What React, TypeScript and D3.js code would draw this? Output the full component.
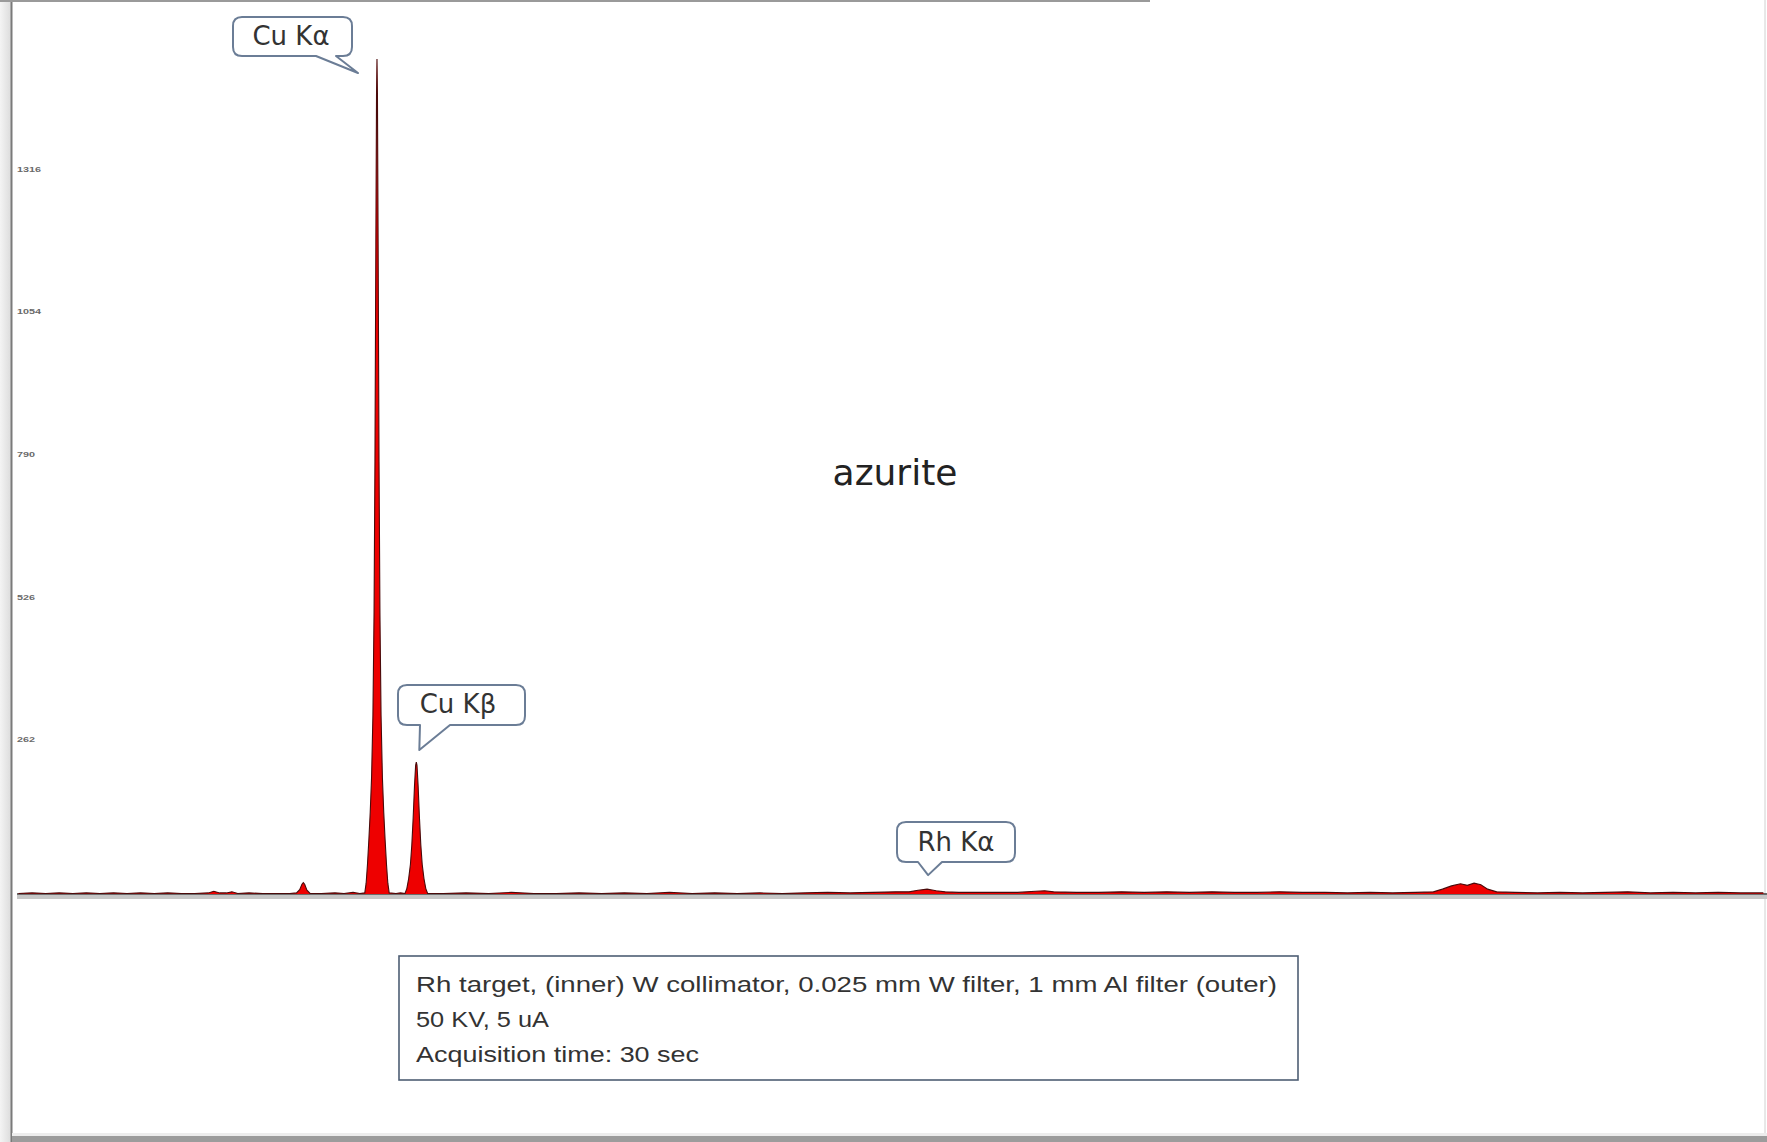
import React, { useEffect } from 'react'
import * as d3 from 'd3'

// XRF spectrum of azurite — energies (keV) and counts
const energyKeV = [
  // background
  0.1, 0.4, 0.7, 1.0, 1.3, 1.6, 1.9, 2.2, 2.5, 2.8, 3.1, 3.4, 3.7, 4.0,
  // small lines
  4.3, 4.42, 4.55, 4.7, 4.82, 4.95, 5.2, 5.5, 5.8, 6.1,
  // Fe Ka
  6.25, 6.32, 6.37, 6.4, 6.43, 6.48, 6.55,
  6.8, 7.1, 7.3, 7.5, 7.65,
  // Cu Ka
  7.76, 7.79, 7.82, 7.85, 7.88, 7.91, 7.94, 7.965, 7.985, 8.005, 8.02, 8.03,
  8.04, 8.055, 8.075, 8.095, 8.12, 8.15, 8.18, 8.21, 8.24, 8.27, 8.3,
  8.45, 8.55,
  // Cu Kb
  8.65, 8.69, 8.73, 8.77, 8.8, 8.83, 8.86, 8.885, 8.9, 8.915, 8.94, 8.97, 9.0,
  9.03, 9.07, 9.11, 9.15,
  // background
  9.5, 10, 10.5, 11, 11.5, 12, 12.5, 13, 13.5, 14, 14.5, 15, 15.5, 16, 16.5,
  17, 17.5, 18, 18.5, 19, 19.5,
  // Rh Ka
  19.8, 20.0, 20.2, 20.4, 20.6, 20.9,
  // Rh Kb + background
  21.5, 22.2, 22.6, 22.8, 23.0, 23.5, 24, 24.5, 25, 25.5, 26, 26.5, 27, 27.5,
  28, 28.5, 29, 29.5, 30, 30.5, 31, 31.4,
  // bump near 32 keV
  31.6, 31.8, 32.0, 32.15, 32.3, 32.45, 32.6, 32.8,
  // background
  33.2, 33.7, 34.2, 34.7, 35.2, 35.7, 36.2, 36.7, 37.2, 37.7, 38.2, 38.7,
]

const counts = [
  1, 2, 1, 2, 1, 2, 1, 2, 1, 2, 1, 2, 1, 1,
  2, 5, 2, 2, 4, 1, 2, 1, 1, 1,
  2, 8, 18, 21, 18, 7, 1,
  1, 2, 1, 3, 1,
  2, 20, 55, 100, 150, 215, 330, 520, 800, 1200, 1480, 1544,
  1480, 1200, 800, 520, 330, 215, 150, 100, 55, 20, 2,
  1, 2,
  1, 10, 28, 55, 90, 140, 200, 238, 244, 238, 200, 140, 90,
  55, 28, 10, 1,
  1, 2, 1, 3, 1, 1, 2, 1, 2, 1, 3, 1, 2, 1, 2,
  1, 2, 3, 2, 3, 4,
  4, 7, 9, 6, 4, 3,
  3, 3, 5, 6, 4, 3, 3, 4, 3, 4, 3, 4, 3, 3,
  4, 3, 3, 2, 3, 2, 3, 4,
  9, 15, 19, 16, 20, 17, 9, 4,
  3, 2, 3, 2, 3, 4, 2, 3, 2, 3, 2, 2,
]

const yTicks = [262, 526, 790, 1054, 1316]

// peak callouts: label, peak energy, peak counts
const peakLabels = ['Cu Kα', 'Cu Kβ', 'Rh Kα']
const peakEnergies = [8.03, 8.9, 20.2]
const peakCounts = [1544, 244, 9]

const sampleName = 'azurite'
const infoLines = [
  'Rh target, (inner) W collimator, 0.025 mm W filter, 1 mm Al filter (outer)',
  '50 KV, 5 uA',
  'Acquisition time: 30 sec',
]

const W = 1767
const H = 1142

// callout box: rounded rect with a tail pointing at the peak
function calloutPath(x0: number, y0: number, x1: number, y1: number, r: number,
  tailA: number, tailB: number, tipX: number, tipY: number) {
  return [
    `M${x0 + r},${y0}`,
    `L${x1 - r},${y0}`,
    `Q${x1},${y0} ${x1},${y0 + r}`,
    `L${x1},${y1 - r}`,
    `Q${x1},${y1} ${x1 - r},${y1}`,
    `L${tailB},${y1}`,
    `L${tipX},${tipY}`,
    `L${tailA},${y1}`,
    `L${x0 + r},${y1}`,
    `Q${x0},${y1} ${x0},${y1 - r}`,
    `L${x0},${y0 + r}`,
    `Q${x0},${y0} ${x0 + r},${y0}`,
    'Z',
  ].join(' ')
}

export default function App() {
  useEffect(() => {
    document.body.style.margin = '0'
    document.body.style.overflow = 'hidden'
  }, [])

  const x = d3.scaleLinear().domain([0, 38.78]).range([14, 1767])
  const y = d3.scaleLinear().domain([0, 1579.2]).range([894, 40])

  const data = energyKeV.map((e, i) => [e, counts[i]] as [number, number])
  const area = d3.area<[number, number]>()
    .x(d => x(d[0]))
    .y0(y(0))
    .y1(d => y(d[1]))
  const line = d3.line<[number, number]>()
    .x(d => x(d[0]))
    .y(d => y(d[1]))

  // callout boxes, placed relative to the peaks they point at
  const callouts = [
    { box: [233, 17, 352, 56], tail: [316, 336], tipDx: -19, tipDy: 14, textX: 291, textY: 45 },
    { box: [398, 685, 525, 725], tail: [420, 450], tipDx: 3, tipDy: -12, textX: 458, textY: 713 },
    { box: [897, 822, 1015, 862], tail: [918, 942], tipDx: 1, tipDy: -14, textX: 956, textY: 851 },
  ]

  return (
    <svg width={W} height={H} style={{ position: 'absolute', left: 0, top: 0, background: '#fff' }}>
      <defs>
        <linearGradient id="leftShade" x1="0" x2="1" y1="0" y2="0">
          <stop offset="0" stopColor="#f4f4f4" />
          <stop offset="1" stopColor="#dcdcdc" />
        </linearGradient>
      </defs>

      {/* page frame */}
      <rect x={0} y={0} width={11} height={H} fill="url(#leftShade)" />
      <line x1={11.5} x2={11.5} y1={0} y2={H} stroke="#7a7a7a" strokeWidth={2} />
      <line x1={0} x2={1150} y1={1} y2={1} stroke="#9a9a9a" strokeWidth={2} />
      <line x1={1765} x2={1765} y1={0} y2={H} stroke="#d0d0d0" strokeWidth={1} />
      <rect x={12} y={1133} width={W - 12} height={3} fill="#ededed" />
      <rect x={12} y={1136} width={W - 12} height={6} fill="#9c9c9c" />

      {/* y tick labels */}
      {yTicks.map(t => (
        <text key={t} x={17} y={y(t) - 12} dominantBaseline="middle"
          fontFamily="'Liberation Sans', Arial, sans-serif" fontSize={8} fontWeight="bold"
          fill="#6a6a6a" textLength={t >= 1000 ? 24 : 18} lengthAdjust="spacingAndGlyphs">
          {t}
        </text>
      ))}

      {/* baseline and its shadow */}
      <rect x={17} y={895} width={1750} height={4} fill="#c6c6c6" />
      <line x1={17} x2={1767} y1={y(0)} y2={y(0)} stroke="#3c3c3c" strokeWidth={1.5} />

      {/* spectrum */}
      <path d={area(data) || ''} fill="#ee0000" />
      <path d={line(data) || ''} fill="none" stroke="#4a0a0a" strokeWidth={1.1} />

      {/* sample name */}
      <text x={895} y={485} textAnchor="middle" fontFamily="'DejaVu Sans', sans-serif"
        fontSize={36} fill="#222">{sampleName}</text>

      {/* peak callouts */}
      {peakLabels.map((label, i) => {
        const c = callouts[i]
        const tipX = x(peakEnergies[i]) + c.tipDx
        const tipY = y(peakCounts[i]) + c.tipDy
        const [x0, y0, x1, y1] = c.box
        return (
          <g key={label}>
            <path d={calloutPath(x0, y0, x1, y1, 9, c.tail[0], c.tail[1], tipX, tipY)}
              fill="#fff" stroke="#6b7d96" strokeWidth={2} strokeLinejoin="round" />
            <text x={c.textX} y={c.textY} textAnchor="middle" fontFamily="'DejaVu Sans', sans-serif"
              fontSize={26} fill="#333">{label}</text>
          </g>
        )
      })}

      {/* acquisition info box */}
      <rect x={399} y={956} width={899} height={124} fill="#fff" stroke="#4e5e74" strokeWidth={1.6} />
      {infoLines.map((t, i) => (
        <text key={i} x={416} y={992 + i * 35} fontFamily="'Liberation Sans', Arial, sans-serif"
          fontSize={22} fill="#333"
          textLength={[861, 133, 283][i]} lengthAdjust="spacingAndGlyphs">
          {t}
        </text>
      ))}
    </svg>
  )
}
